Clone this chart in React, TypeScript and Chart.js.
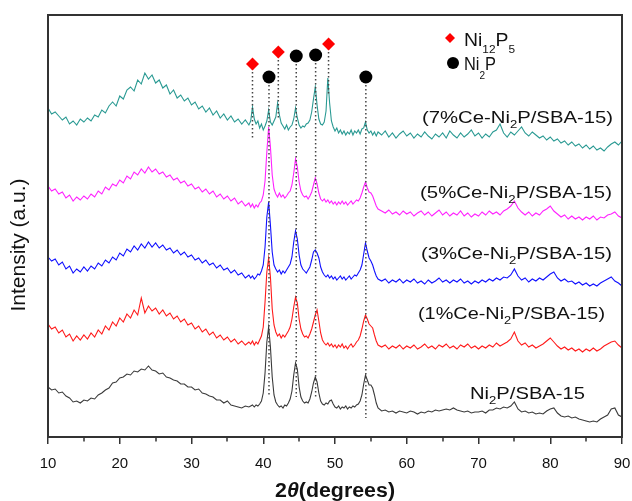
import { useEffect, useRef } from 'react';
import { Chart, registerables } from 'chart.js';

Chart.register(...registerables);

// 2θ (degrees)
const angles = [
  10, 10.5, 11, 11.5, 12, 12.5, 13, 13.5, 14, 14.5,
  15, 15.5, 16, 16.5, 17, 17.5, 18, 18.5, 19, 19.5,
  20, 20.5, 21, 21.5, 22, 22.5, 23, 23.5, 24, 24.5,
  25, 25.5, 26, 26.5, 27, 27.5, 28, 28.5, 29, 29.5,
  30, 30.5, 31, 31.5, 32, 32.5, 33, 33.5, 34, 34.5,
  35, 35.5, 36, 36.5, 37, 37.5, 38,
  38.25, 38.5, 38.75, 39, 39.25, 39.5, 39.75, 40, 40.25, 40.5,
  40.75, 41, 41.25, 41.5, 41.75, 42, 42.25, 42.5, 42.75, 43,
  43.25, 43.5, 43.75, 44, 44.25, 44.5, 44.75, 45, 45.25, 45.5,
  45.75, 46, 46.25, 46.5, 46.75, 47, 47.25, 47.5, 47.75, 48,
  48.25, 48.5, 48.75, 49, 49.25, 49.5, 49.75, 50, 50.25, 50.5,
  50.75, 51, 51.25, 51.5, 51.75, 52, 52.25, 52.5, 52.75, 53,
  53.25, 53.5, 53.75, 54, 54.25, 54.5, 54.75, 55, 55.25, 55.5, 55.75, 56,
  56.5, 57, 57.5, 58, 58.5, 59, 59.5, 60, 60.5, 61,
  61.5, 62, 62.5, 63, 63.5, 64, 64.5, 65, 65.5, 66,
  66.5, 67, 67.5, 68, 68.5, 69, 69.5, 70, 70.5, 71,
  71.5, 72, 72.5, 73, 73.5, 74, 74.5, 75, 75.5, 76,
  76.5, 77, 77.5, 78, 78.5, 79, 79.5, 80, 80.5, 81,
  81.5, 82, 82.5, 83, 83.5, 84, 84.5, 85, 85.5, 86,
  86.5, 87, 87.5, 88, 88.5, 89, 89.5, 90,
];

// Stacked intensities (a.u.)
const ce7 = [
  329, 323, 325, 321, 317, 320, 313, 316, 312, 318,
  315, 319, 316, 322, 320, 327, 324, 331, 335, 331,
  341, 338, 347, 350, 346, 357, 353, 364, 358, 362,
  354, 357, 349, 352, 343, 347, 339, 342, 336, 339,
  332, 335, 328, 331, 325, 329, 322, 326, 319, 323,
  317, 321, 315, 318, 313, 317, 312,
  316, 330, 318, 313, 316, 309, 313, 307, 311, 316,
  327, 315, 312, 316, 320, 334, 322, 314, 311, 308,
  312, 307, 310, 312, 318, 329, 319, 312, 309, 311,
  310, 313, 314, 317, 325, 338, 350, 332, 318, 313,
  312, 315, 326, 359, 334, 316, 310, 306, 309, 304,
  307, 303, 306, 302, 305, 303, 307, 302, 306, 304,
  307, 303, 308, 309, 315, 307, 304, 306, 302, 305, 301, 305,
  302, 306, 300, 304, 299, 303, 306, 301, 304, 299,
  303, 300, 305, 301, 298, 303, 300, 304, 299, 306,
  302, 299, 304, 300, 303, 307, 301, 304, 299, 303,
  300, 305, 307, 313, 304, 300, 305, 302, 306, 310,
  304, 301, 305, 302, 299, 301, 297, 300, 296, 298,
  294, 296, 292, 295, 291, 293, 289, 292, 288, 291,
  287, 289, 286, 290, 293, 295, 292, 296,
];

const ce5 = [
  251, 246, 248, 243, 245, 239, 242, 236, 240, 237,
  241, 238, 243, 240, 246, 243, 250, 247, 253, 251,
  257, 254, 261, 258, 265, 262, 268, 264, 270, 265,
  268, 263, 265, 260, 262, 257, 259, 254, 256, 251,
  253, 248, 250, 245, 248, 243, 246, 240, 243, 238,
  241, 236, 239, 233, 236, 231, 234,
  230, 233, 229, 232, 230, 234, 236, 242, 256, 285,
  310, 290, 262, 248, 243, 240, 244, 240, 242, 239,
  241, 244, 246, 252, 264, 278, 270, 255, 246, 242,
  240, 241, 238, 241, 245, 252, 259, 253, 244, 238,
  236, 238, 235, 237, 234, 236, 233, 235, 232, 235,
  233, 236, 233, 235, 232, 234, 236, 233, 235, 237,
  236, 239, 244, 250, 255, 249, 245, 244, 241, 236, 231, 228,
  226, 224, 227, 223, 225, 222, 226, 223, 225, 221,
  224, 226, 222, 225, 221, 224, 227, 222, 225, 221,
  224, 222, 226, 221, 224, 220, 223, 221, 225, 222,
  226, 223, 225, 222, 226, 228, 231, 236, 229, 225,
  222, 225, 221, 224, 222, 226, 228, 231, 226, 223,
  220, 222, 218, 221, 218, 220, 217, 220, 218, 221,
  217, 220, 219, 222, 223, 225, 221, 219,
];

const ce3 = [
  180, 176, 178, 172, 175, 168, 171, 164, 168, 165,
  170, 166, 171, 168, 174, 171, 177, 174, 180, 177,
  184, 181, 188, 185, 191, 187, 193, 189, 195, 190,
  194, 189, 192, 187, 189, 184, 187, 182, 185, 180,
  182, 177, 179, 174, 177, 172, 174, 169, 172, 167,
  169, 164, 167, 162, 164, 159, 162,
  159, 161, 158, 160, 163, 162, 166, 172, 190, 220,
  235, 212, 185, 172, 168, 165, 167, 163, 166, 164,
  167, 170, 173, 180, 195, 206, 198, 182, 172, 168,
  166, 164, 167, 170, 177, 185, 187, 184, 179, 170,
  165, 162, 160, 162, 159, 161, 158, 160, 157, 159,
  161, 158, 160, 157, 159, 161, 158, 160, 162, 161,
  164, 167, 172, 183, 194, 186, 179, 176, 172, 166, 161, 158,
  156, 158, 154, 157, 155, 158, 154, 157, 155, 158,
  154, 156, 153, 157, 154, 156, 159, 155, 157, 154,
  157, 155, 158, 154, 156, 153, 156, 154, 157, 155,
  158, 156, 159, 157, 160, 159, 162, 168, 161, 157,
  159, 155, 158, 156, 159, 157, 160, 163, 165, 159,
  156, 158, 155, 156, 153, 155, 152, 154, 151, 153,
  151, 154, 156, 158, 160, 156, 154, 151,
];

const ce1 = [
  113, 108, 110, 104, 107, 100, 103, 96, 101, 97,
  102, 98, 104, 100, 107, 103, 111, 107, 115, 111,
  119, 115, 123, 119, 127, 122, 139, 124, 131, 126,
  129, 123, 127, 121, 124, 118, 121, 115, 118, 112,
  114, 108, 111, 105, 108, 102, 105, 99, 102, 97,
  100, 95, 98, 93, 96, 92, 95,
  93, 96, 92, 95, 93, 97, 101, 110, 135, 165,
  179, 160, 128, 112, 105, 101, 103, 99, 102, 100,
  103, 106, 110, 118, 130, 140, 134, 118, 108, 103,
  100, 101, 99, 103, 108, 115, 122, 127, 116, 104,
  97, 94, 92, 94, 91, 93, 90, 92, 89, 92,
  90, 93, 89, 91, 88, 91, 93, 90, 92, 95,
  97, 101, 108, 116, 122, 118, 113, 111, 109, 102, 96, 92,
  90, 92, 88, 91, 89, 92, 88, 91, 89, 92,
  88, 90, 93, 89, 91, 88, 92, 90, 93, 89,
  91, 88, 92, 90, 93, 89, 91, 88, 91, 89,
  92, 90, 94, 91, 93, 95, 98, 105, 96, 92,
  94, 90, 92, 89, 91, 93, 96, 99, 95, 91,
  88, 90, 87, 89, 86, 88, 85, 88, 86, 89,
  86, 88, 91, 93, 95, 96, 92, 89,
];

const pure = [
  50, 47, 48, 44, 45, 41, 39, 35, 36, 34,
  37, 36, 39, 38, 42, 44, 47, 49, 54, 55,
  59, 60, 63, 62, 66, 65, 68, 67, 71, 67,
  66, 63, 64, 60, 59, 57, 56, 53, 53, 50,
  50, 47, 48, 44, 43, 41, 40, 37, 37, 34,
  36, 32, 31, 30, 29, 31, 30,
  31, 32, 30, 32, 31, 33, 36, 44, 64, 95,
  110, 90, 60, 42, 35, 32, 30, 31, 29, 32,
  31, 34, 38, 46, 62, 74, 68, 50, 40, 36,
  34, 35, 34, 38, 45, 54, 60, 55, 44, 36,
  33, 32, 34, 33, 36, 37, 33, 30, 29, 31,
  28, 30, 29, 31, 28, 30, 29, 31, 30, 32,
  33, 36, 42, 53, 62, 57, 52, 52, 49, 42, 34, 29,
  26, 27, 25, 26, 24, 26, 25, 24, 26, 25,
  23, 25, 24, 26, 25, 27, 26, 27, 28, 27,
  29, 27, 26, 25, 26, 24, 25, 25, 26, 24,
  27, 27, 29, 28, 30, 29, 31, 35, 28, 25,
  26, 24, 25, 23, 24, 23, 26, 28, 29, 24,
  21, 20, 21, 19, 20, 18, 17, 16, 15, 16,
  15, 18, 20, 22, 28, 29, 22, 20,
];

const seriesNames = ['(7%Ce-Ni2P/SBA-15)', '(5%Ce-Ni2P/SBA-15)', '(3%Ce-Ni2P/SBA-15)', '(1%Ce-Ni2P/SBA-15)', 'Ni2P/SBA-15'];
const seriesColors = ['#2a9a93', '#ff22ff', '#1010ff', '#ff1a1a', '#3a3a3a'];

// Phase reflections
const ni12p5Angles = [38.5, 42.1, 49.1];
const ni12p5Marks = [373, 385, 393];
const ni12p5LineEnds = [297, 319, 342];
const ni2pAngles = [40.8, 44.6, 47.3, 54.3];
const ni2pMarks = [360, 381, 382, 360];
const ni2pLineEnds = [40, 40, 40, 19];

const xTicks = [10, 20, 30, 40, 50, 60, 70, 80, 90];
const xMinorTicks = [15, 25, 35, 45, 55, 65, 75, 85];

const FONT = "'Liberation Sans', Arial, sans-serif";

type Part = [string, boolean];

function drawRich(
  ctx: CanvasRenderingContext2D,
  parts: Part[],
  x: number,
  y: number,
  align: 'left' | 'right',
  size: number,
  subSize: number,
  subDrop: number,
  targetW: number,
) {
  let w = 0;
  for (const [t, s] of parts) {
    ctx.font = `${s ? subSize : size}px ${FONT}`;
    w += ctx.measureText(t).width;
  }
  const sx = targetW / w;
  ctx.save();
  ctx.translate(align === 'right' ? x - targetW : x, y);
  ctx.scale(sx, 1);
  ctx.textAlign = 'left';
  ctx.textBaseline = 'alphabetic';
  let cx = 0;
  for (const [t, s] of parts) {
    ctx.font = `${s ? subSize : size}px ${FONT}`;
    ctx.fillText(t, cx, s ? subDrop : 0);
    cx += ctx.measureText(t).width;
  }
  ctx.restore();
}

function splitSub(name: string): Part[] {
  const i = name.indexOf('Ni2P');
  return [
    [name.slice(0, i + 2), false],
    ['2', true],
    [name.slice(i + 3), false],
  ];
}

const decorPlugin = {
  id: 'decor',
  afterDraw(chart: any) {
    const ctx: CanvasRenderingContext2D = chart.ctx;
    const a = chart.chartArea;
    const xs = chart.scales.x;
    const L = Math.round(a.left);
    const R = Math.round(a.right);
    const T = Math.round(a.top);
    const B = Math.round(a.bottom);
    ctx.save();
    ctx.fillStyle = '#333333';
    ctx.fillRect(L - 1, T - 1, 2, B - T + 2);
    ctx.fillRect(R - 1, T - 1, 2, B - T + 2);
    ctx.fillRect(L - 1, T - 1, R - L + 2, 2);
    ctx.fillRect(L - 1, B - 1, R - L + 2, 2);
    for (const v of xMinorTicks) {
      const px = Math.round(xs.getPixelForValue(v));
      ctx.fillRect(px - 0.75, B, 1.5, 4.5);
    }
    ctx.restore();

    ctx.save();
    ctx.fillStyle = '#111';

    // series labels
    const baselines = [123, 198, 259, 319, 399];
    const rights = [613, 612, 612, 605, 585];
    const widths = [191, 192, 191, 187, 115];
    seriesNames.forEach((n, i) => {
      drawRich(ctx, splitSub(n), rights[i], baselines[i], 'right', 17, 11, 5, widths[i]);
    });

    // legend
    ctx.fillStyle = '#ff0000';
    ctx.beginPath();
    ctx.moveTo(450, 33);
    ctx.lineTo(455, 38);
    ctx.lineTo(450, 43);
    ctx.lineTo(445, 38);
    ctx.closePath();
    ctx.fill();
    ctx.fillStyle = '#000';
    ctx.beginPath();
    ctx.arc(453, 63, 6, 0, Math.PI * 2);
    ctx.fill();
    ctx.fillStyle = '#111';
    drawRich(ctx, [['Ni', false], ['12', true], ['P', false], ['5', true]], 464, 46, 'left', 18, 11, 7, 51);
    drawRich(ctx, [['Ni', false], ['2', true], ['P', false]], 464, 70, 'left', 18, 11, 9, 32);

    // y title
    ctx.save();
    ctx.translate(19, 245);
    ctx.rotate(-Math.PI / 2);
    ctx.font = `20px ${FONT}`;
    const yt = 'Intensity (a.u.)';
    const yw = ctx.measureText(yt).width;
    ctx.scale(133 / yw, 1);
    ctx.textAlign = 'center';
    ctx.textBaseline = 'middle';
    ctx.fillText(yt, 0, 0);
    ctx.restore();

    // x title
    const parts: [string, string][] = [
      ['2', `bold 20px ${FONT}`],
      ['θ', `italic bold 20px ${FONT}`],
      ['(degrees)', `bold 20px ${FONT}`],
    ];
    let tw = 0;
    for (const [t, f] of parts) {
      ctx.font = f;
      tw += ctx.measureText(t).width;
    }
    const target = 120;
    ctx.save();
    ctx.translate((L + R) / 2 - target / 2, 497);
    ctx.scale(target / tw, 1);
    ctx.textAlign = 'left';
    ctx.textBaseline = 'alphabetic';
    let cx = 0;
    for (const [t, f] of parts) {
      ctx.font = f;
      ctx.fillText(t, cx, 0);
      cx += ctx.measureText(t).width;
    }
    ctx.restore();

    ctx.restore();
  },
};

export default function App() {
  const ref = useRef<HTMLCanvasElement>(null);

  useEffect(() => {
    if (!ref.current) return;
    const series = [ce7, ce5, ce3, ce1, pure];
    const datasets: any[] = [];
    series.forEach((vals, i) => {
      datasets.push({
        type: 'line',
        label: seriesNames[i],
        data: angles.map((a, j) => ({ x: a, y: vals[j] })),
        borderColor: seriesColors[i],
        borderWidth: 1.1,
        pointRadius: 0,
        tension: 0,
        order: 3,
      });
    });
    ni12p5Angles.forEach((a, i) => {
      datasets.push({
        type: 'line',
        label: 'guide',
        data: [{ x: a, y: ni12p5Marks[i] }, { x: a, y: ni12p5LineEnds[i] }],
        borderColor: '#444',
        borderWidth: 1.5,
        borderDash: [1.5, 2.5],
        pointRadius: 0,
        order: 2,
      });
    });
    ni2pAngles.forEach((a, i) => {
      datasets.push({
        type: 'line',
        label: 'guide',
        data: [{ x: a, y: ni2pMarks[i] }, { x: a, y: ni2pLineEnds[i] }],
        borderColor: '#444',
        borderWidth: 1.5,
        borderDash: [1.5, 2.5],
        pointRadius: 0,
        order: 2,
      });
    });
    datasets.push({
      type: 'scatter',
      label: 'Ni12P5',
      data: ni12p5Angles.map((a, i) => ({ x: a, y: ni12p5Marks[i] })),
      pointStyle: 'rectRot',
      pointRadius: 6.5,
      backgroundColor: '#ff0000',
      borderWidth: 0,
      order: 1,
    });
    datasets.push({
      type: 'scatter',
      label: 'Ni2P',
      data: ni2pAngles.map((a, i) => ({ x: a, y: ni2pMarks[i] })),
      pointStyle: 'circle',
      pointRadius: 6.5,
      backgroundColor: '#000000',
      borderWidth: 0,
      order: 1,
    });

    const chart = new Chart(ref.current, {
      type: 'line',
      data: { datasets },
      options: {
        animation: false,
        responsive: false,
        devicePixelRatio: 1,
        layout: { padding: { left: 48, right: 10, top: 15, bottom: 0 } },
        plugins: { legend: { display: false }, tooltip: { enabled: false } },
        scales: {
          x: {
            type: 'linear',
            min: 10,
            max: 90,
            afterBuildTicks: (scale: any) => {
              scale.ticks = xTicks.map((v) => ({ value: v }));
            },
            afterFit: (scale: any) => {
              scale.height = 64;
              scale.paddingLeft = 0;
              scale.paddingRight = 0;
            },
            ticks: {
              color: '#111',
              font: { family: FONT, size: 15 },
              padding: 11,
              maxRotation: 0,
            },
            grid: {
              display: true,
              drawOnChartArea: false,
              drawTicks: true,
              tickLength: 7,
              color: '#333',
              lineWidth: 1.5,
            },
            border: { display: false },
          },
          y: {
            type: 'linear',
            min: 0,
            max: 422,
            display: false,
          },
        },
      },
      plugins: [decorPlugin],
    });
    return () => chart.destroy();
  }, []);

  return (
    <div style={{ position: 'absolute', left: 0, top: 0, width: 632, height: 501, background: '#fff' }}>
      <canvas ref={ref} width={632} height={501} style={{ display: 'block' }} />
    </div>
  );
}
